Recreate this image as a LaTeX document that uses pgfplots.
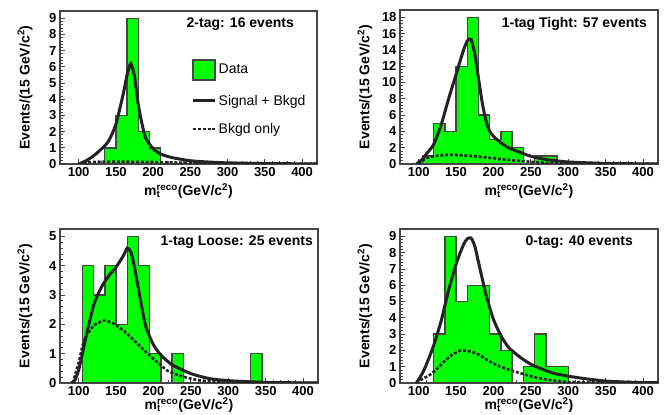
\documentclass[border=0pt]{standalone}
\usepackage{fontspec}
\setmainfont{Liberation Sans}
\setsansfont{Liberation Sans}
\usepackage{pgfplots}
\pgfplotsset{compat=1.18}

\definecolor{hgreen}{RGB}{0,255,0}
\definecolor{frame}{RGB}{70,70,70}
\definecolor{curve}{RGB}{35,35,35}

\pgfplotsset{
  panel/.style={
    scale only axis, xmin=75, xmax=420, ymin=0,
    axis line style={frame, line width=1.2pt},
    xtick={100,150,...,400}, minor x tick num=4, minor y tick num=4,
    tick align=inside, xtick pos=bottom, ytick pos=left,
    major tick length=5pt, minor tick length=2.5pt,
    tick style={frame, line width=0.8pt},
    /pgf/number format/assume math mode=true,
    tick label style={font=\bfseries\fontsize{13}{15}\selectfont},
    label style={font=\bfseries\fontsize{14}{16}\selectfont},
    xlabel={m\rlap{\textsubscript{t}}\textsuperscript{reco}(GeV/c\textsuperscript{2})},
    ylabel={Events/(15 GeV/c\textsuperscript{2})},
    xlabel style={at={(axis description cs:0.5,-0.175)}, anchor=center},
    ylabel style={at={(axis description cs:-0.136,0.5)}, anchor=center},
  },
  lowrow/.style={xlabel style={at={(axis description cs:0.5,-0.142)}}},
  hist/.style={const plot, fill=hgreen, draw=frame, line width=1.4pt},
  sb/.style={color=curve, line width=3pt, smooth, tension=0.4},
  bk/.style={color=curve, line width=2.6pt, dash pattern=on 3pt off 1.8pt, smooth, tension=0.4},
}
\tikzset{tagtitle/.style={font=\bfseries\fontsize{14}{16}\selectfont, anchor=east, inner sep=0pt}}

\begin{document}
\begin{tikzpicture}
\useasboundingbox (0,0) rectangle (670pt,415pt);

% 2-tag
\begin{axis}[panel, at={(60pt,251pt)}, anchor=south west, width=257pt, height=153pt,
  ymax=9.45, ytick={0,1,...,9},
  legend style={draw=none, fill=none, at={(axis description cs:0.5,0.70)}, anchor=north west,
    font=\fontsize{14}{16}\selectfont, row sep=12.5pt},
  legend cell align=left]
\addplot[hist, legend image code/.code={\draw[frame, line width=1.5pt, fill=hgreen] (0pt,-10pt) rectangle (22pt,10pt);}]
  coordinates {(75,0) (135,1) (150,3) (165,9) (180,2) (195,1) (210,0) (420,0)} \closedcycle;
\addlegendentry{Data}
\addplot[sb, legend image code/.code={\draw[curve, line width=3pt] (0pt,0pt) -- (22pt,0pt);}]
  coordinates {(100,0) (110,0.2) (120,0.5) (130,0.9) (140,1.4) (150,2.45) (160,4.35) (165,5.5)
    (170,6.2) (175,5.4) (180,3.7) (185,2.5) (190,1.6) (200,0.95) (210,0.62) (225,0.4)
    (250,0.2) (275,0.12) (300,0.07) (350,0.03) (400,0.01) (420,0.01)};
\addlegendentry{Signal + Bkgd}
\addplot[bk, legend image code/.code={\draw[curve, line width=2.6pt, dash pattern=on 3pt off 1.8pt] (0pt,0pt) -- (22pt,0pt);}]
  coordinates {(100,0) (110,0.1) (130,0.14) (160,0.14) (200,0.12) (250,0.07) (300,0.03)
    (350,0.01) (420,0)};
\addlegendentry{Bkgd only}
\end{axis}
\node[tagtitle] at (294pt,391pt) {2-tag: 16 events};

% 1-tag Tight
\begin{axis}[panel, at={(400pt,251pt)}, anchor=south west, width=258pt, height=154pt,
  ymax=18.9, ytick={0,2,...,18}]
\addplot[hist] coordinates {(75,0) (105,1) (120,5) (135,4) (150,12) (165,18) (180,6)
  (195,3) (210,4) (225,2) (240,0) (255,1) (285,0) (420,0)} \closedcycle;
\addplot[sb] coordinates {(97,0) (105,0.6) (110,1.2) (120,2.4) (130,4.8) (140,8.0)
  (150,11.0) (160,14.0) (165,15.1) (170,15.3) (175,13.5) (180,10.5) (185,7.5) (190,5.3)
  (195,4.0) (200,3.4) (210,2.6) (220,2.0) (235,1.45) (250,0.95) (270,0.55) (300,0.25)
  (350,0.07) (400,0.02) (420,0.01)};
\addplot[bk] coordinates {(100,0) (105,0.4) (110,0.7) (120,0.95) (135,1.1) (145,1.12)
  (160,1.05) (180,0.9) (200,0.7) (220,0.5) (240,0.35) (260,0.2) (280,0.1) (300,0.05)
  (350,0.01) (420,0)};
\end{axis}
\node[tagtitle] at (647pt,391pt) {1-tag Tight: 57 events};

% 1-tag Loose
\begin{axis}[panel, lowrow, at={(60pt,32pt)}, anchor=south west, width=258pt, height=154pt,
  ymax=5.25, ytick={0,1,...,5}]
\addplot[hist] coordinates {(75,0) (105,4) (120,3) (135,4) (150,2) (165,5) (180,4)
  (195,1) (210,0) (225,1) (240,0) (330,1) (345,0) (420,0)} \closedcycle;
\addplot[sb] coordinates {(90,0) (95,0.1) (100,0.45) (105,1.0) (110,1.6) (120,2.65)
  (130,3.25) (140,3.65) (150,3.95) (160,4.35) (165,4.6) (170,4.45) (175,3.9) (180,3.2)
  (185,2.5) (190,1.9) (200,1.3) (210,0.95) (225,0.62) (250,0.32) (275,0.15) (300,0.08)
  (350,0.02) (420,0)};
\addplot[bk] coordinates {(92,0) (100,0.7) (105,1.25) (110,1.6) (120,1.95) (130,2.1)
  (135,2.13) (145,2.05) (155,1.88) (165,1.67) (180,1.3) (190,1.05) (200,0.82) (210,0.6)
  (220,0.4) (235,0.25) (250,0.15) (265,0.08) (300,0.03) (420,0)};
\end{axis}
\node[tagtitle] at (313pt,173pt) {1-tag Loose: 25 events};

% 0-tag
\begin{axis}[panel, lowrow, at={(400pt,32pt)}, anchor=south west, width=258pt, height=154pt,
  ymax=9.45, ytick={0,1,...,9}]
\addplot[hist] coordinates {(75,0) (120,3) (135,9) (150,5) (165,6) (195,3) (210,2)
  (225,0) (240,1) (255,3) (270,1) (300,0) (420,0)} \closedcycle;
\addplot[sb] coordinates {(97,0) (105,0.6) (110,1.1) (120,2.3) (130,3.8) (140,5.7)
  (150,7.3) (160,8.5) (165,8.85) (170,8.9) (175,8.4) (180,7.4) (185,6.4) (190,5.4)
  (200,3.9) (210,2.9) (220,2.2) (235,1.6) (250,1.15) (265,0.85) (280,0.6) (300,0.42)
  (325,0.25) (350,0.12) (375,0.06) (400,0.03) (420,0.02)};
\addplot[bk] coordinates {(97,0) (105,0.25) (115,0.5) (125,0.9) (135,1.35) (145,1.75)
  (155,1.98) (160,2.0) (170,1.92) (180,1.75) (190,1.45) (200,1.2) (210,0.98) (225,0.75)
  (240,0.55) (255,0.35) (270,0.22) (285,0.12) (300,0.07) (330,0.03) (420,0)};
\end{axis}
\node[tagtitle] at (633pt,173pt) {0-tag: 40 events};
\end{tikzpicture}
\end{document}
